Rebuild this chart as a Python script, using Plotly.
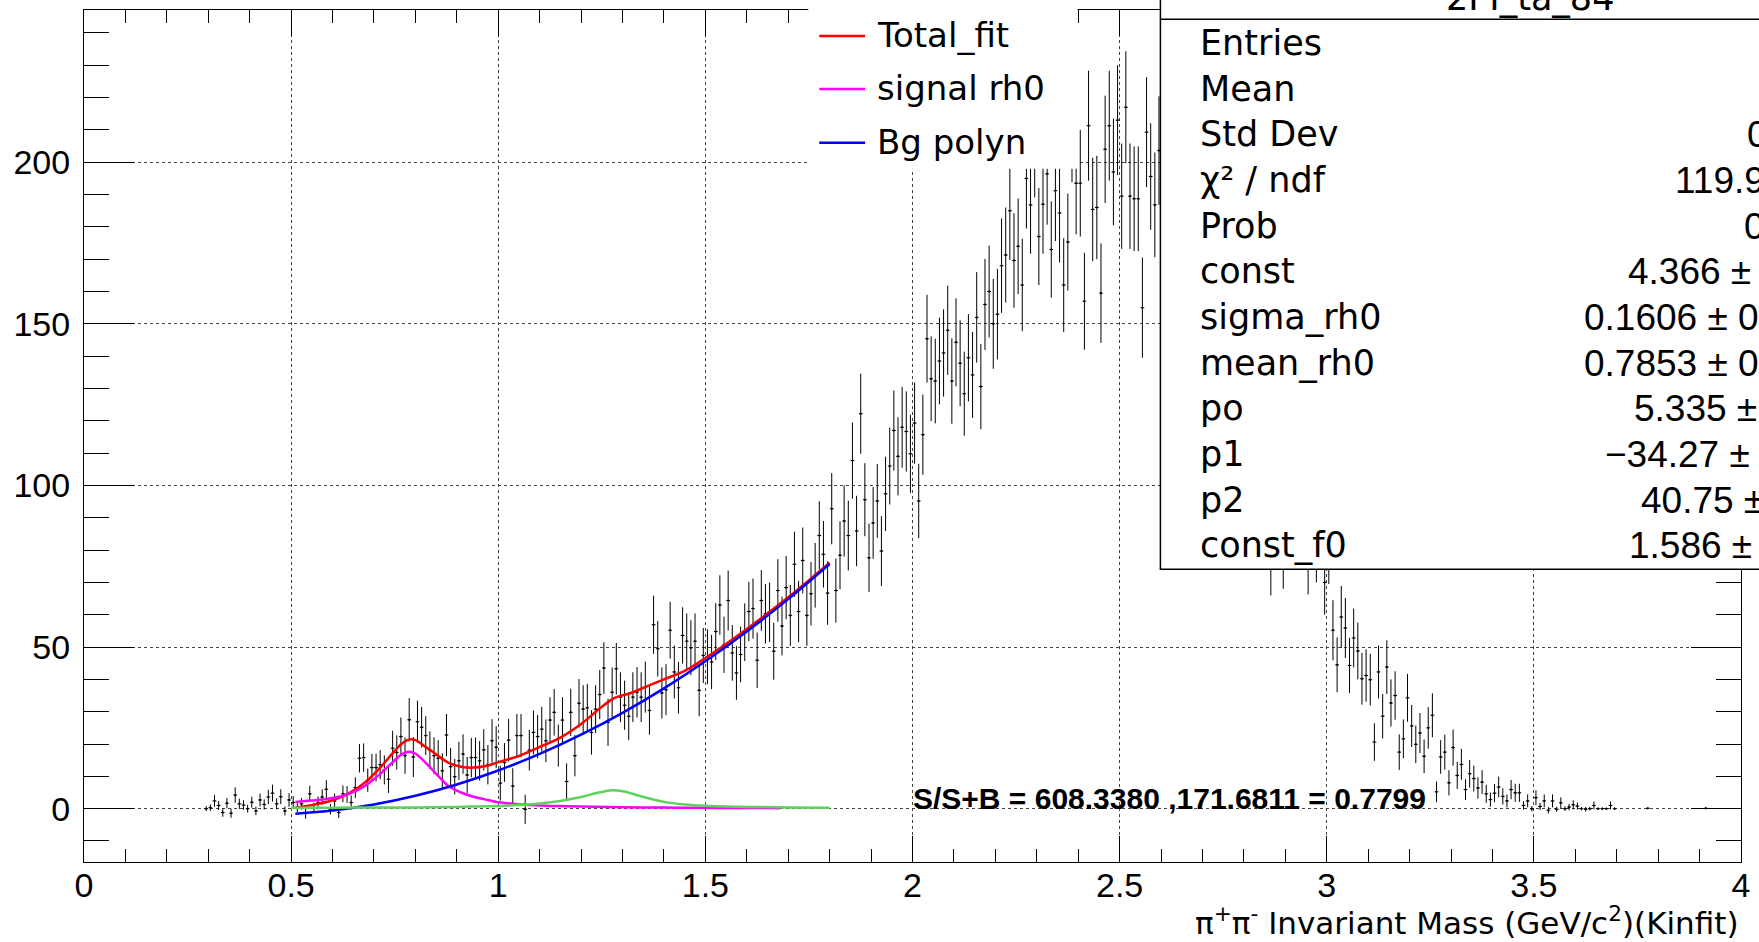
import plotly.graph_objects as go

# ---------------- data ----------------
bin_lo = 0.29
bin_w = 0.01
counts = [
    0.0, 0.3, 2.4, 1.0, -1.2, 1.7, -1.4, 4.2, 1.5, 1.1, 0.0,
    2.0, -0.7, 2.7, 1.3, 3.6, 4.8, 1.5, 3.7, -0.7, 2.7,
    1.9, 0.3, 1.5, -1.5, 4.6, 0.3, 1.8, 3.6, 6.0, -0.2,
    2.4, -1.2, 4.6, 4.4, 1.9, 6.5, 15.6, 15.8, 8.8, 12.7,
    12.7, 13.6, 12.0, 9.1, 18.7, 17.4, 22.3, 16.4, 27.5, 16.0,
    26.9, 25.2, 22.6, 18.1, 16.4, 15.6, 11.7, 22.8, 13.0, 9.9,
    14.8, 16.9, 10.4, 15.8, 15.8, 14.8, 18.2, 13.6, 21.0, 19.0,
    7.9, 14.3, 21.2, 7.0, 22.6, 22.6, -0.2, 18.1, 23.6, 22.3,
    24.6, 21.0, 27.4, 29.8, 19.5, 27.4, 8.4, 29.8, 16.4, 32.6,
    30.8, 31.2, 23.6, 30.8, 35.3, 43.5, 26.7, 36.0, 43.3, 34.5,
    32.0, 28.6, 34.5, 36.0, 34.5, 37.6, 30.4, 56.9, 49.5, 35.8,
    36.8, 55.2, 42.3, 37.4, 53.6, 51.8, 49.8, 51.8, 36.6, 47.4,
    47.0, 45.4, 54.8, 63.0, 50.7, 64.4, 48.2, 42.0, 47.7, 54.6,
    61.0, 61.9, 45.9, 64.4, 60.3, 60.8, 48.7, 67.5, 56.5, 68.4,
    59.8, 75.6, 61.0, 76.8, 59.8, 66.5, 72.2, 84.5, 78.7, 66.7,
    92.8, 67.5, 78.4, 89.0, 84.5, 107.7, 85.9, 122.2, 95.6, 77.6,
    88.4, 95.2, 79.7, 97.4, 106.0, 117.0, 109.0, 118.0, 116.7, 109.8,
    119.3, 95.2, 115.7, 145.4, 133.0, 132.3, 138.5, 141.0, 148.0, 132.3,
    144.3, 137.8, 128.4, 139.5, 134.2, 152.0, 130.6, 156.0, 160.0, 150.0,
    153.0, 168.0, 171.3, 185.0, 169.6, 174.0, 162.0, 195.0, 186.8, 205.0,
    177.0, 187.0, 196.4, 173.0, 191.2, 184.3, 162.0, 175.3, 210.0, 193.5,
    193.5, 157.0, 211.3, 185.4, 186.0, 159.5, 204.0, 211.3, 197.0, 213.0,
    189.5, 217.0, 189.5, 188.7, 188.7, 155.0, 209.3, 195.6, 186.8, 203.6,
    196.0, 188.0, 205.0, 180.0, 192.0, 170.0, 185.0, 178.0, 165.0, 172.0,
    160.0, 168.0, 150.0, 158.0, 145.0, 140.0, 148.0, 132.0, 138.0, 125.0,
    120.0, 128.0, 112.0, 105.0, 110.0, 98.0,
    78.0, 90.0, 95.0, 80.0, 92.0, 88.0, 95.0, 88.0, 90.0, 78.0, 88.0, 80.0, 88.0, 70.0,
    80.0,
    55.2, 44.5, 59.3, 55.9, 44.3, 52.8, 48.8, 40.2, 41.2,
    39.9, 20.6, 42.3, 28.6, 43.8, 32.7, 35.0, 17.5, 21.6, 34.3,
    25.6, 19.9, 23.4, 16.2, 25.0, 28.9, 5.2, 16.0, 17.5, 8.0,
    18.9, 10.3, 13.7, 5.9, 10.8, 9.3, 6.4, 8.2, 4.6, 2.8,
    4.8, 6.7, 3.8, 2.4, 5.9, 4.9, 4.9, 1.0, 2.4, 0.0,
    3.4, 0.7, 2.4, -0.5, 2.4, -0.2, 1.8, 0.0, 0.5, 1.2,
    0.8, 0.0, -0.2, 0.0, 1.0, 0.0, 0.0, 0.0, 1.0, 0.0,
]
errors = [
    0.8, 1.0, 1.8, 1.4, 1.3, 1.6, 1.4, 2.4, 1.6, 1.5, 1.2,
    1.7, 1.3, 2.0, 1.6, 2.2, 2.6, 1.7, 2.3, 1.4, 2.1,
    2.0, 1.4, 1.8, 1.6, 2.5, 1.5, 2.0, 2.4, 2.8, 1.6,
    2.3, 1.7, 2.6, 2.6, 2.2, 3.2, 4.4, 4.4, 3.6, 4.2,
    4.3, 4.5, 4.5, 4.2, 5.4, 5.3, 5.9, 5.6, 6.7, 6.2,
    6.5, 6.3, 6.0, 5.8, 5.7, 5.6, 5.4, 6.5, 5.8, 5.5,
    5.9, 6.1, 5.6, 6.1, 6.2, 6.1, 6.4, 6.1, 6.7, 6.5,
    5.4, 6.0, 6.6, 5.5, 6.7, 6.7, 4.5, 6.3, 6.8, 6.7,
    6.9, 6.6, 7.1, 7.2, 6.5, 7.1, 5.6, 7.3, 6.4, 7.5,
    7.4, 7.4, 6.9, 7.4, 7.6, 8.0, 7.3, 7.7, 8.0, 7.7,
    7.6, 7.4, 7.7, 7.8, 7.7, 7.9, 7.5, 9.0, 8.6, 7.9,
    7.9, 8.8, 8.2, 8.0, 8.7, 8.6, 8.5, 8.6, 8.0, 8.5,
    8.5, 8.4, 8.8, 9.2, 8.7, 9.3, 8.6, 8.3, 8.6, 8.9,
    9.2, 9.3, 8.6, 9.4, 9.2, 9.2, 8.8, 9.7, 9.1, 9.8,
    9.4, 10.1, 9.5, 10.2, 9.4, 9.8, 10.0, 10.6, 10.3, 9.8,
    11.0, 9.9, 10.5, 11.0, 10.8, 11.8, 10.9, 12.4, 11.3, 10.6,
    11.1, 11.4, 10.8, 11.5, 11.9, 12.4, 12.1, 12.5, 12.4, 12.1,
    12.6, 11.5, 12.4, 13.6, 13.1, 13.1, 13.4, 13.5, 13.8, 13.2,
    13.6, 13.3, 13.0, 13.5, 13.3, 14.0, 13.2, 14.1, 14.2, 13.9,
    14.0, 14.6, 14.7, 15.2, 14.6, 14.8, 14.3, 15.5, 15.1, 15.9,
    15.0, 15.3, 15.7, 14.9, 15.6, 15.3, 14.5, 15.0, 16.2, 15.8,
    16.5, 15.0, 17.0, 16.0, 16.0, 15.4, 16.6, 17.0, 16.5, 17.0,
    16.3, 17.3, 16.3, 16.2, 16.2, 15.5, 17.0, 16.5, 16.2, 16.8,
    16.5, 16.2, 16.8, 15.9, 16.3, 15.5, 16.0, 15.8, 15.2, 15.5,
    15.0, 15.3, 14.6, 14.9, 14.3, 14.1, 14.4, 13.6, 13.9, 13.2,
    12.9, 13.3, 12.5, 12.1, 12.4, 11.8,
    12.0, 11.5, 11.8, 12.0, 11.6, 11.4, 11.8, 11.2, 11.5, 11.7, 11.3, 10.0, 11.0, 10.0,
    10.5,
    9.3, 8.5, 9.6, 9.3, 8.5, 9.1, 8.8, 8.0, 8.1,
    8.0, 5.8, 8.2, 6.9, 8.3, 7.3, 7.5, 5.5, 6.0, 7.4,
    6.5, 5.8, 6.2, 5.2, 6.4, 6.8, 3.2, 5.2, 5.4, 3.9,
    5.6, 4.2, 4.8, 3.2, 4.3, 4.0, 3.3, 3.7, 2.8, 2.2,
    2.8, 3.2, 2.5, 2.0, 3.0, 2.8, 2.8, 1.3, 2.0, 0.8,
    2.3, 1.1, 2.0, 1.0, 2.0, 0.8, 1.7, 0.7, 1.0, 1.4,
    1.1, 0.5, 0.7, 0.5, 1.2, 0.4, 0.4, 0.4, 1.2, 0.4,
]
tail_x = [3.775, 3.915]
tail_y = [0.1, 0.1]
tail_err = [0.3, 0.3]

total_x = [0.51, 0.55, 0.6, 0.64, 0.68, 0.72, 0.75, 0.77, 0.785, 0.8, 0.82, 0.85, 0.88, 0.91, 0.94,
           0.97, 1.0, 1.05, 1.1, 1.15, 1.2, 1.25, 1.28, 1.32, 1.36, 1.4, 1.45, 1.5, 1.6, 1.7, 1.8]
total_y = [0.4, 1.1, 2.6, 4.8, 8.3, 13.4, 17.9, 20.4, 21.4, 21.2, 19.5, 16.8, 14.2, 13.0, 12.7,
           13.2, 14.4, 16.3, 19.1, 22.0, 26.2, 31.5, 34.2, 35.8, 37.9, 40.0, 42.6, 46.6, 55.6, 65.4, 76.1]
sig_x = [0.51, 0.55, 0.6, 0.64, 0.68, 0.72, 0.75, 0.77, 0.785, 0.8, 0.82, 0.85, 0.88, 0.91, 0.94,
         0.97, 1.0, 1.05, 1.1, 1.15, 1.2, 1.3, 1.4, 1.5, 1.6, 1.68]
sig_y = [2.1, 2.5, 3.3, 4.6, 7.2, 11.3, 15.0, 17.0, 17.6, 17.0, 14.8, 10.8, 7.0, 5.0, 3.7,
         2.8, 2.0, 1.4, 1.0, 0.8, 0.65, 0.45, 0.35, 0.25, 0.2, 0.15]
bg_x = [0.51, 0.6, 0.7, 0.8, 0.9, 1.0, 1.1, 1.2, 1.3, 1.4, 1.5, 1.6, 1.7, 1.8]
bg_y = [-1.54, -0.56, 1.31, 4.00, 7.50, 11.82, 16.95, 22.89, 29.65, 37.23, 45.62, 54.82, 64.84, 75.68]
f0_x = [0.5, 0.6, 0.7, 0.8, 0.9, 0.95, 1.0, 1.05, 1.1, 1.15, 1.2, 1.24, 1.275, 1.3, 1.33, 1.36,
        1.4, 1.45, 1.5, 1.6, 1.7, 1.8]
f0_y = [0.25, 0.3, 0.35, 0.4, 0.55, 0.7, 0.8, 1.1, 1.6, 2.4, 3.6, 4.9, 5.7, 5.4, 4.4, 3.3,
        2.1, 1.3, 0.9, 0.55, 0.4, 0.3]

legend_labels = ["Total_fit", "signal rh0", "Bg polyn"]
legend_colors = ["#ff0000", "#ff00ff", "#0000ff"]
stats_title = "2PI_ta_84"
stats_labels = ["Entries", "Mean", "Std Dev", "χ² / ndf", "Prob", "const", "sigma_rh0",
                "mean_rh0", "po", "p1", "p2", "const_f0"]
stats_values = ["", "", "0.5234", "119.9 / 125", "0.6123", "4.366 ± 0.412", "0.1606 ± 0.0183",
                "0.7853 ± 0.0078", "5.335 ± 1.927", "−34.27 ± 3.58", "40.75 ± 1.52", "1.586 ± 0.531"]
stats_value_px = [None, None, 1749, 1677, 1746, 1630, 1586, 1586, 1636, 1607, 1643, 1631]
ssb_text = "S/S+B = 608.3380 ,171.6811 = 0.7799"
x_title = "π<sup>+</sup>π<sup>-</sup> Invariant Mass (GeV/c<sup>2</sup>)(Kinfit)"

# ---------------- geometry helpers ----------------
W, H = 1759, 942
L, R, T, B = 84, 1745, 9, 862
TICKFONT = "Liberation Sans"
TEXTFONT = "DejaVu Sans"


def px(x):
    return (x - L) / (R - L)


def py(y):
    return (B - y) / (B - T)


x_centers = [round(bin_lo + bin_w * (i + 0.5), 4) for i in range(len(counts))]

fig = go.Figure()
fig.add_trace(go.Scatter(
    x=x_centers, y=counts, mode="markers",
    marker=dict(size=2, color="black"),
    error_y=dict(type="data", array=errors, visible=True, color="black", thickness=1, width=0),
    error_x=dict(type="constant", value=0.0045, visible=True, color="black", thickness=1, width=0),
    showlegend=False, hoverinfo="skip"))
fig.add_trace(go.Scatter(
    x=tail_x, y=tail_y, mode="markers",
    marker=dict(size=2, color="black"),
    error_y=dict(type="data", array=tail_err, visible=True, color="black", thickness=1, width=0),
    error_x=dict(type="constant", value=0.0045, visible=True, color="black", thickness=1, width=0),
    showlegend=False, hoverinfo="skip"))

for xs, ys, col in [(total_x, total_y, "#ff0000"), (sig_x, sig_y, "#ff00ff"),
                    (bg_x, bg_y, "#0000ff"), (f0_x, f0_y, "#5cd35c")]:
    fig.add_trace(go.Scatter(x=xs, y=ys, mode="lines", line=dict(color=col, width=2.5, shape="spline"),
                             showlegend=False, hoverinfo="skip"))

shapes = []
annotations = []

# legend box
shapes.append(dict(type="rect", xref="paper", yref="paper", x0=px(810), x1=px(1080),
                   y0=py(168), y1=py(-20), fillcolor="white", line=dict(width=0), layer="above"))
for i, (lab, col) in enumerate(zip(legend_labels, legend_colors)):
    yc = [35, 88, 142][i]
    shapes.append(dict(type="line", xref="paper", yref="paper", x0=px(821), x1=px(867),
                       y0=py(yc), y1=py(yc), line=dict(color=col, width=2.5), layer="above"))
    annotations.append(dict(xref="paper", yref="paper", x=px(877), y=py(yc - 1), text=lab,
                            xanchor="left", yanchor="middle", showarrow=False,
                            font=dict(family=TEXTFONT, size=34, color="black")))

# stats box
shapes.append(dict(type="rect", xref="paper", yref="paper", x0=px(1163), x1=px(1850),
                   y0=py(569), y1=py(-30), fillcolor="white", line=dict(color="black", width=1.5),
                   layer="above"))
shapes.append(dict(type="line", xref="paper", yref="paper", x0=px(1163), x1=px(1850),
                   y0=py(18.3), y1=py(18.3), line=dict(color="black", width=1.5), layer="above"))
annotations.append(dict(xref="paper", yref="paper", x=px(1533), y=py(-3), text=stats_title,
                        xanchor="center", yanchor="middle", showarrow=False,
                        font=dict(family=TEXTFONT, size=35, color="black")))
row_base = [54.3, 100, 145.7, 191.4, 237.1, 282.8, 328.5, 374.2, 419.9, 465.6, 511.3, 557]
for i, lab in enumerate(stats_labels):
    yc = row_base[i] - 12.1
    annotations.append(dict(xref="paper", yref="paper", x=px(1201), y=py(yc), text=lab,
                            xanchor="left", yanchor="middle", showarrow=False,
                            font=dict(family=TEXTFONT, size=35, color="black")))
    if stats_values[i]:
        annotations.append(dict(xref="paper", yref="paper", x=px(stats_value_px[i]), y=py(yc + 0.5),
                                text=stats_values[i], xanchor="left", yanchor="middle",
                                showarrow=False, font=dict(family=TICKFONT, size=37, color="black")))

# S/S+B text
annotations.append(dict(xref="paper", yref="paper", x=px(913), y=py(798), text="<b>" + ssb_text + "</b>",
                        xanchor="left", yanchor="middle", showarrow=False,
                        font=dict(family=TICKFONT, size=30, color="black")))
# x title
annotations.append(dict(xref="paper", yref="paper", x=1.0, y=py(943), text=x_title,
                        xanchor="right", yanchor="bottom", showarrow=False,
                        font=dict(family=TEXTFONT, size=31, color="black")))

axis_common = dict(
    showline=True, linecolor="black", linewidth=1, mirror="ticks",
    ticks="inside", tickcolor="black", tickwidth=1,
    showgrid=True, gridcolor="#444", griddash="dot", gridwidth=1, zeroline=False,
    tickfont=dict(family=TICKFONT, size=34, color="black"),
)
fig.update_layout(
    width=W, height=H,
    margin=dict(l=L, r=W - R, t=T, b=H - B),
    paper_bgcolor="white", plot_bgcolor="white",
    xaxis=dict(range=[0, 4], tick0=0, dtick=0.5, ticklen=26,
               minor=dict(dtick=0.1, ticks="inside", ticklen=13, tickcolor="black", tickwidth=1, showgrid=False),
               ticklabelstandoff=-7, **axis_common),
    yaxis=dict(range=[-16.5, 247.1], tick0=0, dtick=50, ticklen=50,
               minor=dict(dtick=10, ticks="inside", ticklen=25, tickcolor="black", tickwidth=1, showgrid=False),
               ticklabelstandoff=6, **axis_common),
    shapes=shapes, annotations=annotations, showlegend=False,
)
fig.write_html("out.html", config={"displayModeBar": False},
               post_script="document.body.style.margin='0px';document.body.style.overflow='hidden';")
